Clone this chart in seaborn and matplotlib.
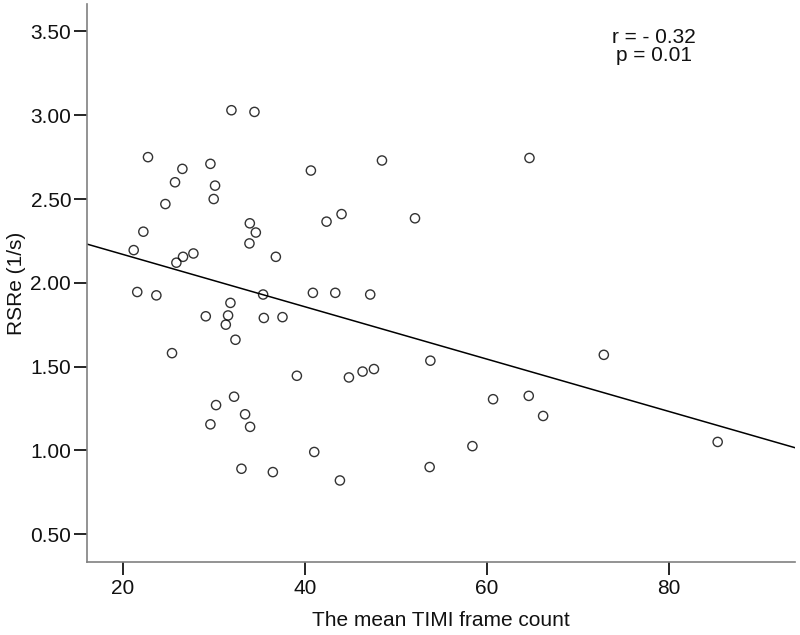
import matplotlib
matplotlib.use("Agg")
import matplotlib.pyplot as plt
import seaborn as sns
import pandas as pd

# values
timi = [31.95, 34.48, 22.78, 26.56, 29.64, 25.75, 30.15, 30.0, 24.69, 33.97,
        34.63, 33.93, 22.27, 21.21, 27.77, 26.63, 25.90, 21.6, 23.70, 35.43,
        31.84, 29.13, 31.58, 31.33, 35.51, 32.39, 25.42, 32.24, 30.26, 33.45,
        29.64, 34.0, 33.05, 37.56, 39.14, 44.86, 46.36, 47.61, 53.81, 41.05,
        36.5, 43.87, 53.73, 40.68, 48.49, 42.4, 44.05, 52.12, 36.83, 40.90,
        43.36, 47.2, 64.7, 60.7, 58.43, 64.62, 66.2, 72.87, 85.38]
rsre = [3.03, 3.02, 2.75, 2.68, 2.71, 2.60, 2.58, 2.50, 2.47, 2.355,
        2.30, 2.235, 2.305, 2.195, 2.175, 2.155, 2.12, 1.945, 1.925, 1.93,
        1.88, 1.80, 1.805, 1.75, 1.79, 1.66, 1.58, 1.32, 1.27, 1.215,
        1.155, 1.14, 0.89, 1.795, 1.445, 1.435, 1.47, 1.485, 1.535, 0.99,
        0.87, 0.82, 0.90, 2.67, 2.73, 2.365, 2.41, 2.385, 2.155, 1.94,
        1.94, 1.93, 2.745, 1.305, 1.025, 1.325, 1.205, 1.57, 1.05]
x_ticks = [20, 40, 60, 80]
y_ticks = [0.50, 1.00, 1.50, 2.00, 2.50, 3.00, 3.50]
stats_text = "r = - 0.32\np = 0.01"

df = pd.DataFrame({"timi": timi, "rsre": rsre})

sns.set_style("white")
plt.rcParams["font.family"] = ["Liberation Sans", "DejaVu Sans"]

fig = plt.figure(figsize=(8, 6.35), dpi=100)
ax = fig.add_axes([0.109, 0.1154, 0.885, 0.878])
ax.set_xlim(16.1, 93.9)
ax.set_ylim(0.335, 3.663)

sns.regplot(data=df, x="timi", y="rsre", ax=ax, ci=None, truncate=False,
            color="black",
            scatter_kws=dict(s=44, facecolors="none", edgecolors="black", linewidths=1.0),
            line_kws=dict(color="black", lw=1.1))

ax.set_xlim(16.1, 93.9)
ax.set_ylim(0.335, 3.663)
ax.set_xticks(x_ticks)
ax.set_yticks(y_ticks)
ax.set_yticklabels([f"{v:.2f}" for v in y_ticks])

for side in ["top", "right"]:
    ax.spines[side].set_visible(False)
for side in ["left", "bottom"]:
    ax.spines[side].set_color("#808080")
    ax.spines[side].set_linewidth(1.2)

ax.tick_params(axis="both", direction="out", length=9.5, width=1.2, color="black",
               labelsize=15, labelcolor="#111111", bottom=True, left=True)
ax.tick_params(axis="y", pad=2)
ax.tick_params(axis="x", pad=3)

ax.set_xlabel("The mean TIMI frame count", fontsize=15, color="#111111")
ax.set_ylabel("RSRe (1/s)", fontsize=15, color="#111111")
ax.xaxis.set_label_coords(0.5, -0.088)
ax.yaxis.set_label_coords(-0.086, 0.5)

ax.text(0.80, 0.924, stats_text, transform=ax.transAxes, ha="center", va="center",
        fontsize=15, linespacing=0.9, color="#111111")

fig.savefig("out.png", dpi=100, facecolor="white")
